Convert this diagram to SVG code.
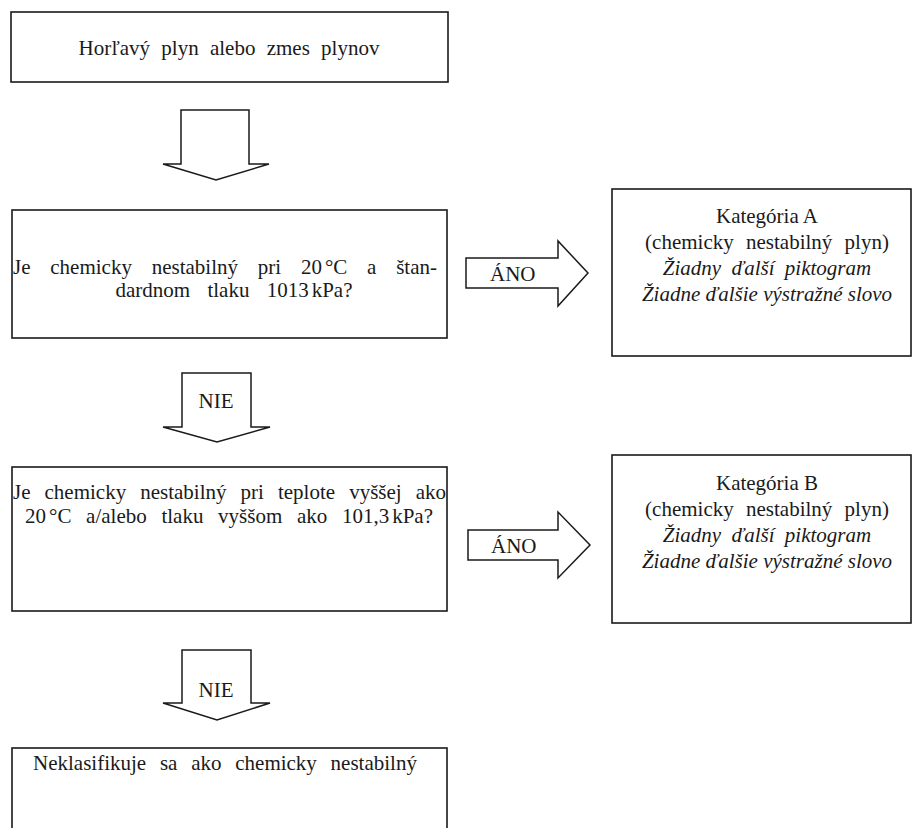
<svg xmlns="http://www.w3.org/2000/svg" width="913" height="828" viewBox="0 0 913 828">
<style>
.box{fill:#fff;stroke:#1a1a1a;stroke-width:1.6}
.arr{fill:#fff;stroke:#1a1a1a;stroke-width:1.5;stroke-linejoin:miter}
text{font-family:"Liberation Serif","Times New Roman",serif;font-size:21px;fill:#1a1a1a}
.c{text-anchor:middle}
.i{font-style:italic}
</style>
<rect width="913" height="828" fill="#fff"/>
<g id="connectors">
<path class="arr" d="M181,110 H249 V164 H269 L216,180 L163,164 H181 Z"/>
<path class="arr" d="M466,258 H558 V241 L588,273 L558,306 V288 H466 Z"/>
<text x="490" y="281">ÁNO</text>
<path class="arr" d="M182,373 H251 V427 H270 L217,442 L163,427 H182 Z"/>
<text class="c" x="216" y="408">NIE</text>
<path class="arr" d="M468,530 H558 V512 L590,545 L558,578 V560 H468 Z"/>
<text x="491" y="553">ÁNO</text>
<path class="arr" d="M182,650 H251 V703 H270 L217,720 L163,703 H182 Z"/>
<text class="c" x="216" y="697">NIE</text>
</g>
<g id="start">
<rect class="box" x="11" y="12" width="437" height="70"/>
<text class="c" x="229" y="55" word-spacing="6">Horľavý plyn alebo zmes plynov</text>
</g>
<g id="q1">
<rect class="box" x="12" y="210" width="435" height="128"/>
<text y="274"><tspan x="13">Je</tspan><tspan x="50.3">chemicky</tspan><tspan x="151.7">nestabilný</tspan><tspan x="257.8">pri</tspan><tspan x="300.9">20</tspan><tspan x="324.9">°C</tspan><tspan x="367.1">a</tspan></text>
<text x="437" y="274" text-anchor="end">štan-</text>
<text class="c" x="234" y="297" word-spacing="12">dardnom tlaku 1013<tspan dx="3">kPa?</tspan></text>
</g>
<g id="catA">
<rect class="box" x="612" y="189" width="299" height="167"/>
<text class="c" x="767" y="223">Kategória A</text>
<text class="c" x="767" y="249" word-spacing="7">(chemicky nestabilný plyn)</text>
<text class="c i" x="767" y="275" word-spacing="5">Žiadny ďalší piktogram</text>
<text class="c i" x="767" y="301">Žiadne ďalšie výstražné slovo</text>
</g>
<g id="q2">
<rect class="box" x="12" y="467" width="435" height="144"/>
<text y="499"><tspan x="13">Je</tspan><tspan x="44.5">chemicky</tspan><tspan x="140.2">nestabilný</tspan><tspan x="240.5">pri</tspan><tspan x="277.9">teplote</tspan><tspan x="349.2">vyššej</tspan></text>
<text x="446" y="499" text-anchor="end">ako</text>
<text y="523"><tspan x="25">20</tspan><tspan x="49">°C</tspan><tspan x="86.1">a/alebo</tspan><tspan x="161.4">tlaku</tspan><tspan x="218.1">vyššom</tspan><tspan x="297">ako</tspan><tspan x="342">101,3</tspan></text>
<text x="433" y="523" text-anchor="end">kPa?</text>
</g>
<g id="catB">
<rect class="box" x="612" y="455" width="299" height="168"/>
<text class="c" x="767" y="490">Kategória B</text>
<text class="c" x="767" y="516" word-spacing="7">(chemicky nestabilný plyn)</text>
<text class="c i" x="767" y="542" word-spacing="5">Žiadny ďalší piktogram</text>
<text class="c i" x="767" y="568">Žiadne ďalšie výstražné slovo</text>
</g>
<g id="end">
<rect class="box" x="12" y="748" width="435" height="100"/>
<text class="c" x="225" y="770" word-spacing="8.5">Neklasifikuje sa ako chemicky nestabilný</text>
</g>
</svg>
